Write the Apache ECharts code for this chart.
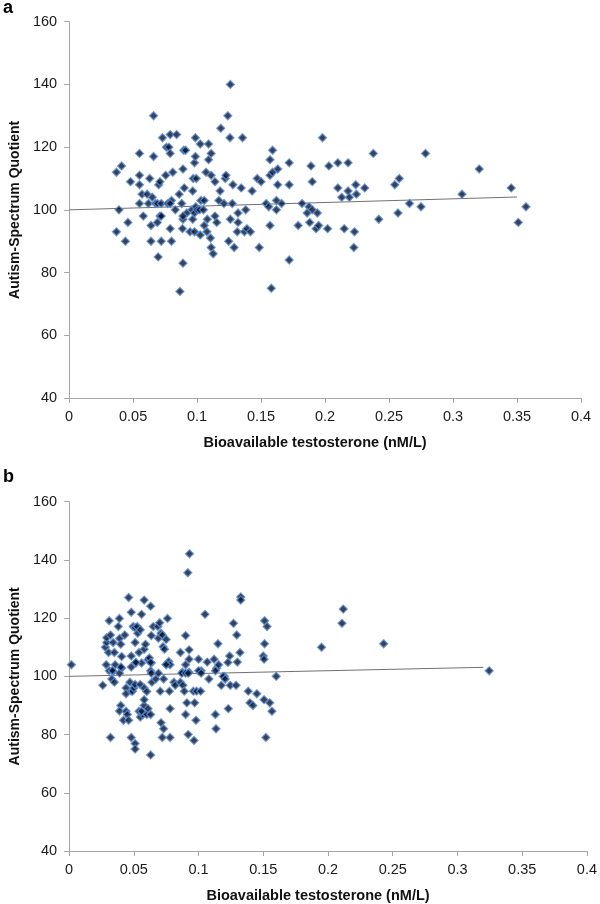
<!DOCTYPE html>
<html><head><meta charset="utf-8">
<script src="https://cdn.jsdelivr.net/npm/echarts@6/dist/echarts.min.js"></script>
<style>html,body{margin:0;padding:0;background:#fff}#c{width:600px;height:904px}</style>
</head><body><div id="c"></div>
<script>
// Panel a: [bioavailable testosterone, AQ]
var pointsA = [
[0.037,112],[0.041,114],[0.039,100],[0.037,93],[0.046,96],[0.048,109],[0.044,90],
[0.055,111],[0.055,108],[0.055,118],[0.057,105],[0.055,102],[0.058,98],[0.061,105],[0.062,102],[0.063,110],[0.064,95],[0.065,104],[0.066,130],[0.066,117],[0.0675,102],[0.069,102],[0.07,108],[0.071,109],[0.071,98],[0.072,98],[0.072,102],[0.073,123],[0.0755,111],[0.076,120],[0.077,102],[0.078,120],[0.079,124],[0.079,118],[0.08,103],[0.081,112],[0.079,102],[0.079,94],[0.064,90],[0.069,96],[0.0696,85],[0.072,90],[0.08,90],
[0.084,124],[0.083,100],[0.086,105],[0.088,102],[0.089,113],[0.0896,119],[0.091,119],[0.09,107],[0.092,99],[0.089,97],[0.089,98],[0.0886,94],[0.0866,74],[0.089,83],
[0.096,100],[0.0987,123],[0.098,115],[0.0987,117],[0.097,110],[0.0994,110],[0.0966,106],[0.0945,93],[0.0966,97],[0.098,93],[0.098,99],[0.099,101],[0.1,100],[0.102,100],
[0.1025,121],[0.103,103],[0.1056,103],[0.107,112],[0.109,121],[0.111,118],[0.109,116],[0.111,111],[0.114,109],[0.118,106],[0.1185,126],[0.117,103],[0.1025,92],[0.105,100],[0.1056,95],[0.1077,93],[0.108,97],[0.1105,91],[0.111,88],[0.1126,86],[0.114,98],[0.1154,96],
[0.124,130],[0.126,140],[0.1257,123],[0.122,110],[0.1226,111],[0.128,108],[0.1275,102],[0.121,102],[0.126,97],[0.1247,90],[0.129,88],
[0.1355,123],[0.1345,107],[0.132,99],[0.138,100],[0.1314,93],[0.132,96],[0.137,93],[0.139,94],[0.1417,93],
[0.143,106],[0.147,110],[0.150,109],[0.1486,88],
[0.157,111],[0.159,119],[0.157,116],[0.159,112],[0.163,113],[0.163,108],[0.166,102],[0.162,100],[0.157,95],[0.154,102],[0.156,101],[0.162,103],[0.158,75],
[0.172,115],[0.172,108],[0.172,84],[0.179,95],[0.182,102],
[0.198,123],[0.189,114],[0.19,109],[0.203,114],[0.21,115],[0.218,115],[0.21,107],[0.218,106],[0.213,104],[0.219,104],[0.224,108],[0.2245,105],[0.231,107],[0.2377,118],
[0.2545,108],[0.258,110],[0.266,102],[0.257,99],[0.275,101],[0.2785,118],[0.307,105],[0.3205,113],[0.3455,107],[0.357,101],[0.351,96],
[0.1875,101],[0.19,100],[0.186,99],[0.194,99],[0.188,96],[0.193,94],[0.195,95],[0.202,94],[0.215,94],[0.223,93],[0.2225,88],[0.242,97]
];
var trendA = [[0,100.0],[0.35,104.1]];

// Panel b
var pointsB = [
[0.0018,104],[0.028,110],[0.029,111.6],[0.029,113.3],[0.031,119.1],[0.032,114.2],[0.0287,104],[0.0305,108.2],[0.031,101.9],[0.034,111.6],[0.035,108.2],[0.0356,104],[0.034,101.7],[0.038,117.1],[0.0389,119.9],[0.039,113],[0.0399,111],[0.0406,106.8],[0.0406,102.8],[0.043,114.2],[0.046,127.1],[0.048,122],[0.048,107],[0.0495,117.1],[0.051,116.7],[0.051,111.6],[0.0516,104.6],[0.0526,117.1],[0.053,114.8],[0.054,108.2],[0.055,116],[0.056,121.3],[0.056,104.6],[0.058,126.2],[0.058,109.3],[0.059,111],[0.061,105.7],[0.062,106.3],[0.063,124.1],[0.0635,114],[0.065,117.1],[0.063,101.9],[0.0635,104.6],[0.0686,117.1],[0.069,113.1],[0.070,118.4],[0.071,114.8],[0.072,114.2],[0.0726,110.2],[0.0737,109.3],[0.075,112.7],[0.076,119.9],[0.075,104],[0.077,105.1],[0.078,104],[0.086,108.2],[0.090,114],[0.090,104],[0.0917,135.6],[0.093,142.1],[0.0927,109.1],[0.0927,105.9],[0.0876,101.4],[0.0927,101.4],[0.100,105.9],[0.102,101.9],[0.105,121.3],[0.1067,104.9],[0.112,105.9],[0.115,111.2],[0.114,102.8],[0.1155,104],[0.12,100],[0.124,107],[0.127,118.2],[0.1295,114.2],[0.130,104.9],[0.132,108.2],[0.1326,127.3],[0.1326,126.2],[0.151,119.1],[0.1529,117.1],[0.151,111.2],[0.150,107],[0.1506,105.9],[0.160,100],
[0.2118,123.1],[0.2108,118.2],[0.195,110],[0.243,111.2],[0.3245,101.9],
[0.026,96.9],[0.032,79],[0.0335,102],[0.033,99.1],[0.035,98],[0.039,101.1],[0.040,103.2],[0.0399,90],[0.0389,88.1],[0.042,84.9],[0.044,88],[0.045,86.9],[0.044,96],[0.044,94],[0.046,84.9],[0.048,103.2],[0.047,98],[0.048,94.9],[0.049,94.9],[0.048,79],[0.051,76.9],[0.051,75],[0.050,96],[0.051,97.2],[0.0516,104.8],[0.054,88],[0.055,97.2],[0.055,86],[0.057,86.9],[0.056,88],[0.058,90],[0.058,92],[0.058,96],[0.06,94.8],[0.060,86.9],[0.061,88.9],[0.063,86.9],[0.063,73],[0.063,104.8],[0.0635,101.1],[0.064,98],[0.067,99.1],[0.069,101.1],[0.0704,94.9],[0.071,84.1],[0.073,99.1],[0.073,82],[0.072,79],[0.075,104.1],[0.0775,94.9],[0.078,88.9],[0.078,79],[0.081,98],[0.082,96.9],[0.086,98],[0.088,96.9],[0.087,101.1],[0.09,101.1],[0.089,94.9],[0.09,86.9],[0.091,90.9],[0.092,101.1],[0.092,80],[0.096,94.9],[0.0985,94.9],[0.1016,94.9],[0.097,90.9],[0.0965,78],[0.098,84.9],[0.1,101.9],[0.102,101.1],[0.108,99.1],[0.113,86.9],[0.1135,82],[0.113,101.9],[0.119,100],[0.1206,99.1],[0.1176,96.9],[0.123,88.9],[0.1245,96.9],[0.129,96.9],[0.1227,104.8],[0.1384,94.9],[0.1397,90.9],[0.142,90],[0.145,94],[0.1506,92],[0.152,79],[0.155,90.9],[0.1567,88]
];
var trendB = [[0,100.0],[0.32,103.1]];

var yTicks = {min:40, max:160, interval:20};
var xTicks = {min:0, max:0.4, interval:0.05};
var xTitle = 'Bioavailable testosterone (nM/L)';
var yTitle = 'Autism-Spectrum Quotient';

var FONT = '"Liberation Sans", Arial, sans-serif';
var axisCol = '#a6a6a6';
function xAxis(gi){
  return {type:'value', gridIndex:gi, min:xTicks.min, max:xTicks.max, interval:xTicks.interval,
    splitLine:{show:false}, axisLine:{lineStyle:{color:axisCol}}, axisTick:{show:true,length:5,lineStyle:{color:axisCol}},
    axisLabel:{color:'#1a1a1a', fontSize:14.5, fontFamily:FONT, margin:11},
    name:xTitle, nameLocation:'middle', nameGap:37,
    nameTextStyle:{fontWeight:'bold', fontSize:14.5, color:'#111', fontFamily:FONT, padding:[0,20,0,0]}};
}
function yAxis(gi){
  return {type:'value', gridIndex:gi, min:yTicks.min, max:yTicks.max, interval:yTicks.interval,
    splitLine:{show:false}, axisLine:{show:true,lineStyle:{color:axisCol}}, axisTick:{show:true,length:5,lineStyle:{color:axisCol}},
    axisLabel:{color:'#1a1a1a', fontSize:14.5, fontFamily:FONT, margin:12},
    name:yTitle, nameLocation:'middle', nameGap:47,
    nameTextStyle:{fontWeight:'bold', fontSize:14, color:'#111', fontFamily:FONT}};
}
var marker = {symbol:'diamond', symbolSize:8, itemStyle:{color:'#06112a', borderColor:'#5b8fd6', borderWidth:1.3}};

var chart = echarts.init(document.getElementById('c'));
chart.setOption({
  animation:false,
  grid:[{left:63.3, top:21.7, width:517.7, height:376.3},
        {left:63.3, top:501.7, width:525, height:351.6}],
  xAxis:[xAxis(0), xAxis(1)],
  yAxis:[yAxis(0), yAxis(1)],
  graphic:[
    {type:'text', left:3, top:-1, style:{text:'a', font:'bold 18px "Liberation Sans", Arial', fill:'#000'}},
    {type:'text', left:3, top:468, style:{text:'b', font:'bold 18px "Liberation Sans", Arial', fill:'#000'}}
  ],
  series:[
    Object.assign({type:'scatter', xAxisIndex:0, yAxisIndex:0, data:pointsA, z:3}, marker),
    {type:'line', xAxisIndex:0, yAxisIndex:0, data:trendA, symbol:'none', lineStyle:{color:'#707070', width:1}, z:2},
    Object.assign({type:'scatter', xAxisIndex:1, yAxisIndex:1, data:pointsB, z:3}, marker),
    {type:'line', xAxisIndex:1, yAxisIndex:1, data:trendB, symbol:'none', lineStyle:{color:'#707070', width:1}, z:2}
  ]
});
</script></body></html>
